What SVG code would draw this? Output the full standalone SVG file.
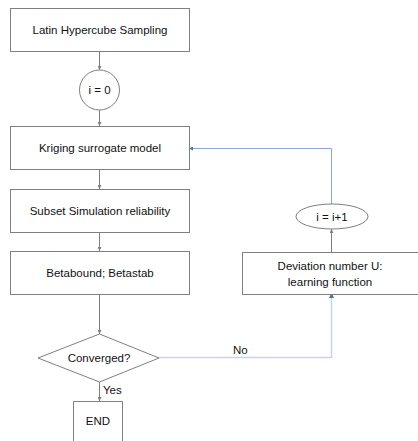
<svg xmlns="http://www.w3.org/2000/svg" width="418" height="441" viewBox="0 0 418 441">
<style>
.box{fill:#fff;stroke:#7f7f7f;stroke-width:1}
.t{font-family:"Liberation Sans",Arial,sans-serif;font-size:11.5px;fill:#111;text-anchor:middle;dominant-baseline:central}
.g{fill:none;stroke:#7f7f7f;stroke-width:1}
.b{fill:none;stroke:#8fa3d6;stroke-width:1}
.lb{fill:none;stroke:#c5d3ec;stroke-width:1.5}
.lab{font-family:"Liberation Sans",Arial,sans-serif;font-size:11.5px;fill:#111}
</style>
<defs>
<marker id="ag" viewBox="0 0 6 6" refX="6" refY="3" markerWidth="4" markerHeight="4" orient="auto"><path d="M0,0L6,3L0,6z" fill="#7f7f7f"/></marker>
<marker id="ab" viewBox="0 0 6 6" refX="6" refY="3" markerWidth="4" markerHeight="4" orient="auto"><path d="M0,0L6,3L0,6z" fill="#4a6fc0"/></marker>
</defs>
<rect width="418" height="441" fill="#fff"/>
<g id="connectors">
<line class="g" x1="99.5" y1="51" x2="99.5" y2="70" marker-end="url(#ag)"/>
<line class="g" x1="99.5" y1="110" x2="99.5" y2="126" marker-end="url(#ag)"/>
<line class="g" x1="99.5" y1="170" x2="99.5" y2="189" marker-end="url(#ag)"/>
<line class="g" x1="99.5" y1="232" x2="99.5" y2="251" marker-end="url(#ag)"/>
<line class="g" x1="99.5" y1="295" x2="99.5" y2="334" marker-end="url(#ag)"/>
<line class="g" x1="99.5" y1="382" x2="99.5" y2="401" marker-end="url(#ag)"/>
<polyline class="lb" points="159,357.5 331.5,357.5 331.5,296"/>
<path d="M329,298L331.5,292.5L334,298z" fill="#4a6fc0"/>
<line class="g" x1="331.5" y1="252" x2="331.5" y2="229" marker-end="url(#ag)"/>
<polyline class="b" points="331.5,204 331.5,148.5 189,148.5" marker-end="url(#ab)"/>
<text class="lab" x="233" y="354">No</text>
<text class="lab" x="103" y="394">Yes</text>
</g>
<g id="lhs"><rect class="box" x="10.5" y="8.5" width="179" height="43"/><text class="t" x="100" y="30">Latin Hypercube Sampling</text></g>
<g id="i0"><circle class="box" cx="99.5" cy="90" r="20"/><text class="t" x="99.5" y="90">i = 0</text></g>
<g id="kriging"><rect class="box" x="10.5" y="126.5" width="179" height="43"/><text class="t" x="100" y="148">Kriging surrogate model</text></g>
<g id="subset"><rect class="box" x="10.5" y="189.5" width="179" height="43"/><text class="t" x="100" y="211">Subset Simulation reliability</text></g>
<g id="beta"><rect class="box" x="10.5" y="251.5" width="179" height="43"/><text class="t" x="100" y="273">Betabound; Betastab</text></g>
<g id="converged"><polygon class="box" points="99.5,334 159,358 99.5,382 38,358"/><text class="t" x="99" y="358">Converged?</text></g>
<g id="end"><path class="box" d="M73.5,442V401.5H122.5V442"/><text class="t" x="98" y="421">END</text></g>
<g id="deviation"><rect class="box" x="242.5" y="252.5" width="176" height="42"/><text class="t" x="330" y="266">Deviation number U:</text><text class="t" x="330" y="282">learning function</text></g>
<g id="iinc"><ellipse class="box" cx="332" cy="216.5" rx="36" ry="12.5"/><text class="t" x="332" y="216.5">i = i+1</text></g>
</svg>
